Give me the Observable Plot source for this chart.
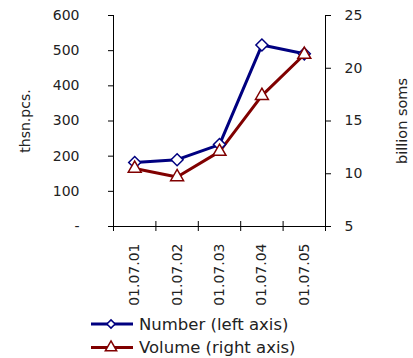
<!DOCTYPE html>
<html><head><meta charset="utf-8">
<script src="https://cdn.jsdelivr.net/npm/d3@7"></script>
<script src="https://cdn.jsdelivr.net/npm/@observablehq/plot@0.6"></script>
<style>
body{margin:0;background:#fff;font-family:"DejaVu Sans",sans-serif;}
#legend text{font-family:"DejaVu Sans",sans-serif;font-size:16.5px;fill:#222;}
</style>
</head><body><div id="chart"></div><div id="legend"></div>
<script>
const dates = ["01.07.01","01.07.02","01.07.03","01.07.04","01.07.05"];
const number = [182, 190, 233, 516, 491];
const volume = [10.5, 9.7, 12.1, 17.4, 21.3];
const leftTicks = [0,100,200,300,400,500,600];
const rightTicks = [5,10,15,20,25];
const leftLabel = "thsn.pcs.";
const rightLabel = "billion soms";
const seriesNames = ["Number (left axis)", "Volume (right axis)"];
const colors = ["#000080", "#800000"];

const leftDomain = [0, 600], rightDomain = [5, 25];
const toLeft = v => leftDomain[0] + (v - rightDomain[0]) / (rightDomain[1] - rightDomain[0]) * (leftDomain[1] - leftDomain[0]);
const fromLeft = v => Math.round(rightDomain[0] + (v - leftDomain[0]) / (leftDomain[1] - leftDomain[0]) * (rightDomain[1] - rightDomain[0]));
const rows = dates.map((d, i) => ({i, date: d, number: number[i], volume: volume[i]}));
const boundaries = d3.range(dates.length + 1);
const xc = d => d.i + 0.5;

const chart = Plot.plot({
  width: 413, height: 310,
  marginTop: 15, marginBottom: 84, marginLeft: 113, marginRight: 88,
  style: {fontFamily: "DejaVu Sans", fontSize: "14px", color: "#222", background: "white"},
  x: {domain: [0, dates.length], axis: null},
  y: {domain: leftDomain, axis: null},
  marks: [
    Plot.axisY({anchor: "left", ticks: leftTicks, tickFormat: d => d === 0 ? "-" : d, tickSize: 5, tickPadding: 29, label: null, fontSize: 14, stroke: "black"}),
    Plot.axisY({anchor: "right", ticks: rightTicks.map(toLeft), tickFormat: d => fromLeft(d), tickSize: 5, tickPadding: 14, label: null, fontSize: 14, stroke: "black"}),
    Plot.ruleX([0, dates.length], {x: d => d, stroke: "black"}),
    Plot.ruleY([0], {stroke: "black"}),
    Plot.ruleX(boundaries, {x: d => d, y1: 0, y2: 0, insetTop: -5, insetBottom: -5, stroke: "black"}),
    Plot.text(rows, {x: xc, frameAnchor: "bottom", text: "date", rotate: -90, textAnchor: "end", lineAnchor: "middle", dy: 17, fontSize: 14, fill: "#222"}),
    Plot.text([leftLabel], {frameAnchor: "left", dx: -88, rotate: -90, text: d => d, textAnchor: "middle", lineAnchor: "middle", fontSize: 14, fill: "#222"}),
    Plot.text([rightLabel], {frameAnchor: "right", dx: 77, rotate: -90, text: d => d, textAnchor: "middle", lineAnchor: "middle", fontSize: 14.5, fill: "#222"}),
    Plot.line(rows, {x: xc, y: "number", stroke: colors[0], strokeWidth: 3}),
    Plot.line(rows, {x: xc, y: d => toLeft(d.volume), stroke: colors[1], strokeWidth: 3}),
    Plot.dot(rows, {x: xc, y: "number", symbol: "diamond2", r: 5.4, fill: "white", stroke: colors[0], strokeWidth: 1.5}),
    Plot.dot(rows, {x: xc, y: d => toLeft(d.volume), symbol: "triangle", r: 4.8, fill: "white", stroke: colors[1], strokeWidth: 1.5})
  ]
});
document.getElementById("chart").appendChild(chart);

// legend
const lg = d3.select("#legend").append("svg").attr("width", 413).attr("height", 48);
const syms = [d3.symbol(d3.symbolDiamond2, Math.PI * 3.7 * 3.7)(), d3.symbol(d3.symbolTriangle, Math.PI * 4.2 * 4.2)()];
seriesNames.forEach((name, k) => {
  const y = 14 + k * 23.5;
  lg.append("line").attr("x1", 91).attr("x2", 133).attr("y1", y).attr("y2", y).attr("stroke", colors[k]).attr("stroke-width", 3);
  lg.append("path").attr("d", syms[k]).attr("transform", `translate(111,${y})`).attr("fill", "white").attr("stroke", colors[k]).attr("stroke-width", 1.5);
  lg.append("text").attr("x", 139).attr("y", y).attr("dy", "0.35em").text(name);
});
</script>
</body></html>
